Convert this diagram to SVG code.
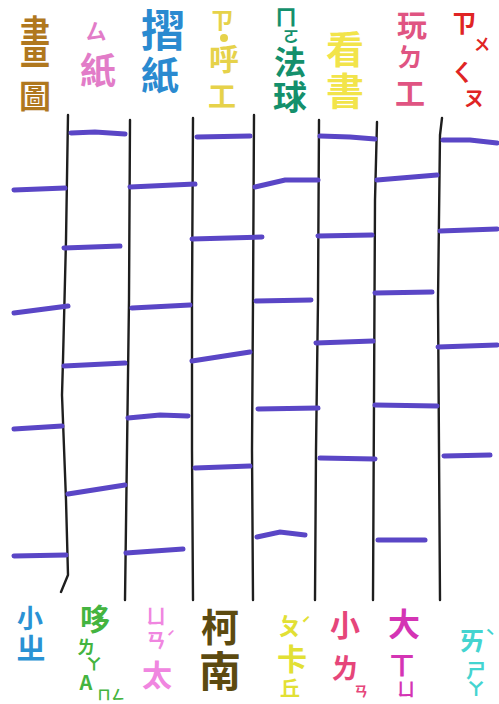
<svg xmlns="http://www.w3.org/2000/svg" width="499" height="704" viewBox="0 0 499 704">
<style>
.t{font-family:"Noto Sans CJK TC","Noto Sans CJK SC",sans-serif;font-weight:700;writing-mode:vertical-rl;text-orientation:upright}
.h{font-family:"Noto Sans CJK TC","Noto Sans CJK SC",sans-serif;font-weight:700;text-anchor:middle}
.v{fill:none;stroke:#1e1e1e;stroke-width:2.4;stroke-linecap:round;stroke-linejoin:round}
.r{fill:none;stroke:#5a46c6;stroke-width:5;stroke-linecap:round}
</style>
<rect width="499" height="704" fill="#ffffff"/>
<g id="top-labels">
<g id="t1" fill="#b0781e"><text class="t" transform="translate(35,14) scale(1,1.85)" font-size="30"><tspan x="0" y="0">畫</tspan></text><text class="t"><tspan x="35" y="80" font-size="32">圖</tspan></text></g>
<g id="t2" fill="#e27cc8"><text class="t"><tspan x="96" y="20" font-size="22">ㄙ</tspan><tspan x="98" y="52" font-size="36">紙</tspan></text></g>
<g id="t3" fill="#2a8ad0"><text class="t"><tspan x="163" y="8" font-size="44">摺</tspan><tspan x="160" y="56" font-size="38">紙</tspan></text></g>
<g id="t4" fill="#e6d24a"><circle cx="224" cy="38" r="4"/><text class="t"><tspan x="222" y="8" font-size="24">ㄗ</tspan><tspan x="224" y="44" font-size="30">呼</tspan><tspan x="222" y="82" font-size="28">工</tspan></text></g>
<g id="t5" fill="#14906c"><text class="t"><tspan x="286" y="6" font-size="22">ㄇ</tspan><tspan x="291" y="28" font-size="16">ㄛ</tspan><tspan x="290" y="46" font-size="32">法</tspan><tspan x="290" y="80" font-size="34">球</tspan></text></g>
<g id="t6" fill="#f2e44a"><text class="t"><tspan x="345" y="30" font-size="38">看</tspan><tspan x="345" y="72" font-size="38">書</tspan></text></g>
<g id="t7" fill="#e05482"><text class="t"><tspan x="412" y="10" font-size="30">玩</tspan><tspan x="410" y="44" font-size="26">ㄉ</tspan><tspan x="410" y="78" font-size="30">工</tspan></text></g>
<g id="t8" fill="#e02424"><text class="t"><tspan x="464" y="10" font-size="26">ㄗ</tspan><tspan x="482" y="36" font-size="16">ㄨ</tspan><tspan x="462" y="60" font-size="24">ㄑ</tspan><tspan x="474" y="88" font-size="20">ㄡ</tspan></text></g>
</g>
<g id="connectors">
<path class="v" d="M68 115 L66 240 L63 360 L62 395 L66 500 L68 575 L61 592"/>
<path class="v" d="M130 120 L129 300 L127 450 L125 600"/>
<path class="v" d="M193 118 L192 300 L192 450 L193 600"/>
<path class="v" d="M254 115 L253 300 L252 450 L253 600"/>
<path class="v" d="M319 120 L318 300 L316 450 L315 600"/>
<path class="v" d="M377 122 L375 200 L374 400 L373 600"/>
<path class="v" d="M442 118 L440 135 L438 300 L439 450 L440 600"/>
<path class="r" d="M14 190 L65 188"/>
<path class="r" d="M14 313 L68 306"/>
<path class="r" d="M14 429 L62 426"/>
<path class="r" d="M14 556 L66 555"/>
<path class="r" d="M71 133 L95 132 L125 134"/>
<path class="r" d="M64 248 L120 246"/>
<path class="r" d="M64 366 L125 363"/>
<path class="r" d="M68 494 L125 485"/>
<path class="r" d="M130 187 L195 184"/>
<path class="r" d="M132 308 L190 305"/>
<path class="r" d="M128 418 L160 415 L188 416"/>
<path class="r" d="M126 553 L183 549"/>
<path class="r" d="M197 137 L250 136"/>
<path class="r" d="M192 239 L262 237"/>
<path class="r" d="M192 361 L250 352"/>
<path class="r" d="M195 468 L250 466"/>
<path class="r" d="M255 187 L285 180 L318 180"/>
<path class="r" d="M256 301 L311 300"/>
<path class="r" d="M258 409 L318 408"/>
<path class="r" d="M257 537 L280 532 L305 535"/>
<path class="r" d="M320 136 L350 137 L375 139"/>
<path class="r" d="M318 236 L372 235"/>
<path class="r" d="M316 343 L373 341"/>
<path class="r" d="M320 458 L375 459"/>
<path class="r" d="M377 180 L437 175"/>
<path class="r" d="M375 293 L432 292"/>
<path class="r" d="M375 405 L437 406"/>
<path class="r" d="M378 540 L425 540"/>
<path class="r" d="M443 140 L470 140 L497 143"/>
<path class="r" d="M440 231 L497 229"/>
<path class="r" d="M438 347 L497 345"/>
<path class="r" d="M444 456 L490 455"/>
</g>
<g id="bottom-labels">
<g id="b1" fill="#2a92d4"><text class="t"><tspan x="30" y="605" font-size="26">小</tspan><tspan x="31" y="633" font-size="30">ㄓ</tspan></text></g>
<g id="b2" fill="#44b440"><text class="t"><tspan x="95" y="604" font-size="30">哆</tspan><tspan x="86" y="638" font-size="18">ㄌ</tspan><tspan x="94" y="656" font-size="16">ㄚ</tspan><tspan x="86" y="672" font-size="20">A</tspan><tspan x="104" y="688" font-size="13">ㄇ</tspan><tspan x="118" y="688" font-size="13">ㄥ</tspan></text></g>
<g id="b3" fill="#f086e0"><text class="t"><tspan x="156" y="606" font-size="20">ㄩ</tspan><tspan x="156" y="630" font-size="20">ㄢ</tspan><tspan x="157" y="660" font-size="30">太</tspan></text><text class="h" x="171" y="642" font-size="14">ˊ</text></g>
<g id="b4" fill="#5c4a10"><text class="t"><tspan x="220" y="608" font-size="38">柯</tspan><tspan x="220" y="650" font-size="42">南</tspan></text></g>
<g id="b5" fill="#e2e034"><text class="t"><tspan x="290" y="614" font-size="24">ㄆ</tspan><tspan x="292" y="644" font-size="30">卡</tspan><tspan x="290" y="678" font-size="20">丘</tspan></text><text class="h" x="306" y="630" font-size="16">ˊ</text></g>
<g id="b6" fill="#e6467a"><text class="t"><tspan x="345" y="610" font-size="30">小</tspan><tspan x="345" y="654" font-size="28">ㄌ</tspan><tspan x="361" y="684" font-size="14">ㄢ</tspan></text></g>
<g id="b7" fill="#d434b4"><text class="t"><tspan x="404" y="608" font-size="32">大</tspan><tspan x="402" y="652" font-size="26">ㄒ</tspan><tspan x="406" y="680" font-size="18">ㄩ</tspan></text></g>
<g id="b8" fill="#44d4d0"><text class="t"><tspan x="472" y="628" font-size="26">ㄞ</tspan><tspan x="476" y="660" font-size="20">ㄕ</tspan><tspan x="476" y="680" font-size="18">ㄚ</tspan></text><text class="h" x="490" y="642" font-size="16">ˋ</text></g>
</g>
</svg>
